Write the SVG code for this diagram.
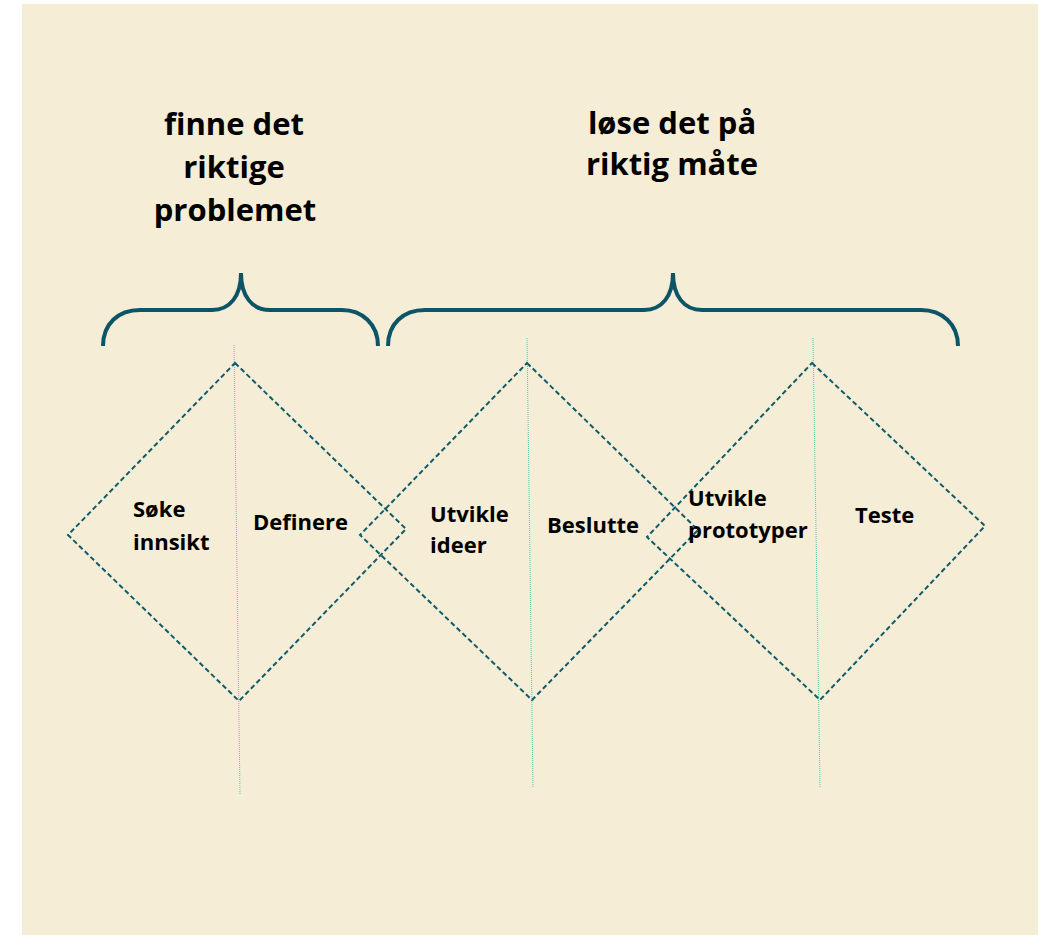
<svg xmlns="http://www.w3.org/2000/svg" width="1041" height="935" viewBox="0 0 1041 935">
<style>
.bg{fill:#F5EDD6}
.title{font-family:"Open Sans","Liberation Sans",sans-serif;font-weight:700;font-size:31px;fill:#000;text-anchor:middle}
.lbl{font-family:"Open Sans","Liberation Sans",sans-serif;font-weight:700;font-size:22px;fill:#000}
.brace{fill:none;stroke:#0B5566;stroke-width:4;stroke-linecap:butt}
.dia{fill:none;stroke:#0F5B6B;stroke-width:2;stroke-dasharray:5 3}
.axis{fill:none;stroke:#63BDBD;stroke-width:1;stroke-dasharray:1 1}
</style>
<rect class="bg" x="22" y="4" width="1016" height="931"/>
<g id="titles">
<text class="title"><tspan x="234" y="135">finne det</tspan><tspan x="234" y="178">riktige</tspan><tspan x="235" y="221">problemet</tspan></text>
<text class="title"><tspan x="672" y="134">løse det på</tspan><tspan x="672" y="175">riktig måte</tspan></text>
</g>
<g id="connectors">
<path class="brace" d="M103,346 C103,324 118,310 140,310 L212,310 C230,310 241,296 241,273 C241,296 252,310 270,310 L342,310 C362,310 378,324 378,346"/>
<path class="brace" d="M388,346 C388,324 403,310 425,310 L644,310 C662,310 673,296 673,273 C673,296 684,310 702,310 L921,310 C942,310 958,324 958,346"/>
<line class="axis" x1="234" y1="345" x2="240" y2="795"/>
<line class="axis" x1="527" y1="338" x2="533" y2="788"/>
<line class="axis" x1="813" y1="338" x2="820" y2="788"/>
</g>
<g id="diamond1">
<path class="dia" d="M235,363 L406,529 L239,701 L68,535 Z"/>
<text class="lbl"><tspan x="133" y="517">Søke</tspan><tspan x="133" y="550">innsikt</tspan></text>
<text class="lbl" x="253" y="530">Definere</text>
</g>
<g id="diamond2">
<path class="dia" d="M527,363 L698,530 L532,700 L360,535 Z"/>
<text class="lbl"><tspan x="430" y="522">Utvikle</tspan><tspan x="430" y="553">ideer</tspan></text>
<text class="lbl" x="547" y="533">Beslutte</text>
</g>
<g id="diamond3">
<path class="dia" d="M812,363 L985,526 L820,700 L647,537 Z"/>
<text class="lbl"><tspan x="688" y="506">Utvikle</tspan><tspan x="688" y="538">prototyper</tspan></text>
<text class="lbl" x="855" y="523">Teste</text>
</g>
</svg>
